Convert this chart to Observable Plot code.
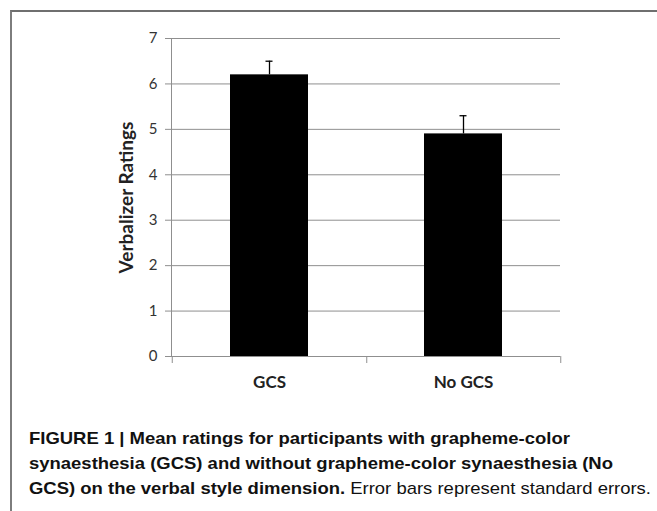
<!DOCTYPE html>
<html>
<head>
<meta charset="utf-8">
<script src="https://cdn.jsdelivr.net/npm/d3@7"></script>
<script src="https://cdn.jsdelivr.net/npm/@observablehq/plot@0.6"></script>
<style>
  html, body { margin: 0; padding: 0; background: #fff; width: 657px; height: 511px; overflow: hidden; }
  #frame { position: absolute; left: 10px; top: 10px; width: 700px; height: 600px;
           border-left: 2px solid #7d7d7d; border-top: 2px solid #6f6f6f; }
  #chart { position: absolute; left: 0; top: 0; }
  #caption { position: absolute; left: 29px; top: 426px;
             font-family: "Liberation Sans", Arial, sans-serif;
             font-size: 17px; line-height: 25px; color: #111; white-space: nowrap;
             transform-origin: 0 0; }
  #caption b { font-weight: bold; }
  #caption span { display: inline-block; }
</style>
</head>
<body>
<div id="frame"></div>
<div id="chart"></div>
<div id="caption">
  <span><b>FIGURE 1 | Mean ratings for participants with grapheme-color</b></span><br>
  <span><b>synaesthesia (GCS) and without grapheme-color synaesthesia (No</b></span><br>
  <span id="last"><b>GCS) on the verbal style dimension.</b> Error bars represent standard errors.</span>
</div>
<script>
const categories = ["GCS", "No GCS"];
const means = [6.2, 4.9];
const errors = [0.3, 0.4];
const yTicks = [0, 1, 2, 3, 4, 5, 6, 7];
const yLabel = "Verbalizer Ratings";

const data = categories.map((c, i) => ({cat: c, mean: means[i], se: errors[i]}));

const W = 657, H = 410;
const mL = 171, mR = 97, mT = 38, mB = 54;
const step = (W - mL - mR) / categories.length;
const font = "Lato, 'Open Sans', sans-serif";

const chart = Plot.plot({
  width: W,
  height: H,
  marginLeft: mL,
  marginRight: mR,
  marginTop: mT,
  marginBottom: mB,
  style: {fontFamily: font, background: "transparent"},
  x: {domain: categories, paddingInner: 0.6, paddingOuter: 0.3, label: null},
  y: {domain: [0, 7], label: null},
  marks: [
    Plot.gridY(yTicks, {stroke: "#8f8f8f", strokeOpacity: 1, strokeWidth: 1}),
    Plot.barY(data, {x: "cat", y: "mean", fill: "#000"}),
    Plot.ruleX(data, {x: "cat", y1: "mean", y2: d => d.mean + d.se, stroke: "#000", strokeWidth: 1.3}),
    Plot.tickY(data, {x: "cat", y: d => d.mean + d.se, stroke: "#000", strokeWidth: 1.3, insetLeft: 35.5, insetRight: 35.5}),
    Plot.ruleY([0], {stroke: "#8f8f8f", strokeWidth: 1}),
    Plot.frame({anchor: "left", stroke: "#8f8f8f", strokeWidth: 1}),
    Plot.ruleX([categories[0]], {x: d => d, y1: 0, y2: 0, insetBottom: -7, dx: -step / 2, stroke: "#8f8f8f"}),
    Plot.ruleX(categories, {x: d => d, y1: 0, y2: 0, insetBottom: -7, dx: step / 2, stroke: "#8f8f8f"}),
    Plot.axisY(yTicks, {tickSize: 6, tickPadding: 8, stroke: "#8f8f8f", fontSize: 15, fill: "#333", label: null}),
    Plot.axisX({tickSize: 0, tickPadding: 19, fontSize: 17, fontWeight: "bold", fill: "#222", label: null}),
    Plot.text([yLabel], {frameAnchor: "left", textAnchor: "middle", rotate: -90, dx: -45, fontSize: 19, fontWeight: "bold", fill: "#222"})
  ]
});
document.getElementById("chart").appendChild(chart);

// fit caption width to the reference line length
const cap = document.getElementById("caption");
const w = document.getElementById("last").getBoundingClientRect().width;
cap.style.transform = `scaleX(${622 / w})`;
</script>
</body>
</html>
